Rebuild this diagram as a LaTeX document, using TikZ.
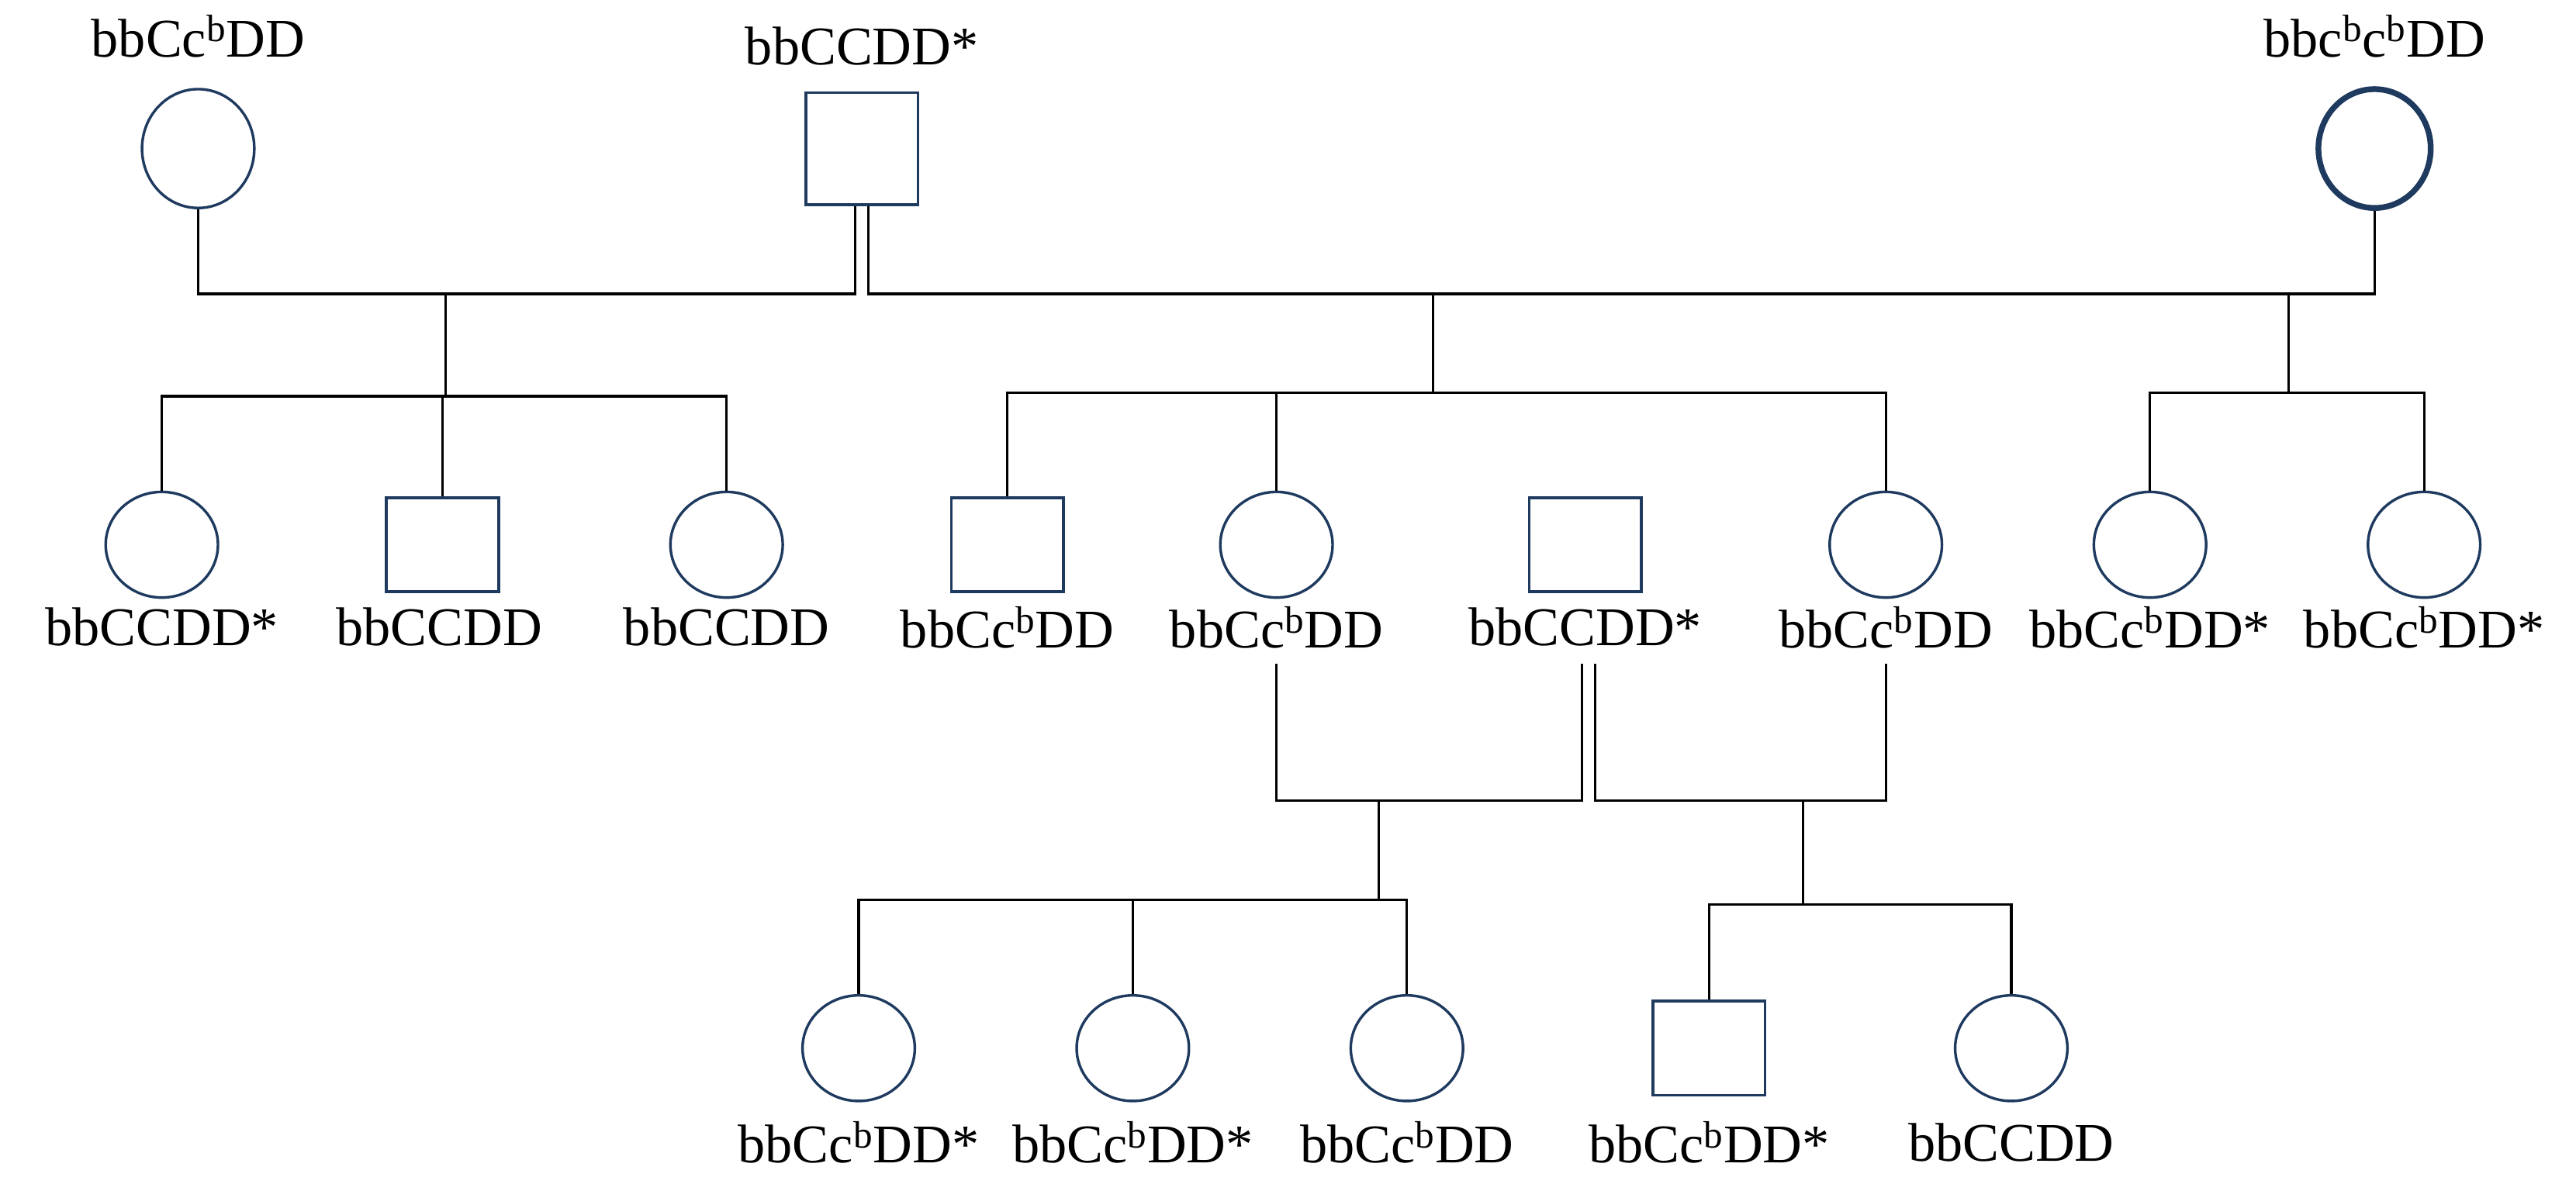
\documentclass[tikz,border=0pt]{standalone}
\usepackage{fontspec}
\setmainfont{Liberation Serif}
\usetikzlibrary{shapes.geometric}
\definecolor{navy}{HTML}{1F3A5F}
\begin{document}
\begin{tikzpicture}[x=1pt,y=-1pt,
 f/.style={draw=navy,line width=1.6pt,ellipse,minimum width=68pt,minimum height=64pt,inner sep=0},
 m/.style={draw=navy,line width=1.6pt,rectangle,minimum width=68pt,minimum height=57pt,inner sep=0},
 lab/.style={font=\fontsize{33}{36}\selectfont,inner sep=0},
 ln/.style={line width=1.5pt}]
\useasboundingbox (0,0) rectangle (1560,721.5);
\newcommand{\cb}{c\textsuperscript{b}}
% generation I
\node[f,minimum height=72pt] (g1) at (120,90) {};
\node[m,minimum height=68pt] (g2) at (522,90) {};
\node[f,minimum height=72pt,line width=3.5pt] (g3) at (1438,90) {};
\node[lab] at (120,22) {bbC\cb DD};
\node[lab] at (522,28) {bbCCDD*};
\node[lab] at (1438,22) {bb\cb\cb DD};
% generation II
\foreach \n/\x/\t in {a/98/f,b/268/m,c/440/f,d/610/m,e/773/f,s/960/m,g/1142/f,h/1302/f,i/1468/f}
  \node[\t] (\n) at (\x,330) {};
\node[lab] at (98,380) {bbCCDD*};
\node[lab] at (266,380) {bbCCDD};
\node[lab] at (440,380) {bbCCDD};
\node[lab] at (610,380) {bbC\cb DD};
\node[lab] at (773,380) {bbC\cb DD};
\node[lab] at (960,380) {bbCCDD*};
\node[lab] at (1142,380) {bbC\cb DD};
\node[lab] at (1302,380) {bbC\cb DD*};
\node[lab] at (1468,380) {bbC\cb DD*};
% generation III
\foreach \n/\x/\t in {p/520/f,q/686/f,r/852/f,u/1035/m,v/1218/f}
  \node[\t] (\n) at (\x,635) {};
\node[lab] at (520,692) {bbC\cb DD*};
\node[lab] at (686,692) {bbC\cb DD*};
\node[lab] at (852,692) {bbC\cb DD};
\node[lab] at (1035,692) {bbC\cb DD*};
\node[lab] at (1218,692) {bbCCDD};
% coordinates
\coordinate (s1) at (518,178); \coordinate (s2) at (526,178);
\coordinate (k1) at (270,178); \coordinate (k2) at (868,178); \coordinate (k3) at (1386,178);
\coordinate (t1) at (958,485); \coordinate (t2) at (966,485);
\coordinate (k4) at (835,485); \coordinate (k5) at (1092,485);
% marriages
\draw[ln] (g1.south) |- (s1) -- (s1|-g2.south);
\draw[ln] (g3.south) |- (s2) -- (s2|-g2.south);
\draw[ln] (773,402) |- (t1) -- (958,402);
\draw[ln] (1142,402) |- (t2) -- (966,402);
% sibships
\draw[ln] (k1) -- (270,240);
\draw[ln] (a.north) |- (270,240) -| (c.north);
\draw[ln] (268,240) -- (b.north);
\draw[ln] (k2) -- (868,238);
\draw[ln] (d.north) |- (868,238) -| (g.north);
\draw[ln] (773,238) -- (e.north);
\draw[ln] (k3) -- (1386,238);
\draw[ln] (h.north) |- (1386,238) -| (i.north);
\draw[ln] (k4) -- (835,545);
\draw[ln] (p.north) |- (835,545) -| (r.north);
\draw[ln] (686,545) -- (q.north);
\draw[ln] (k5) -- (1092,548);
\draw[ln] (u.north) |- (1092,548) -| (v.north);
\end{tikzpicture}
\end{document}
